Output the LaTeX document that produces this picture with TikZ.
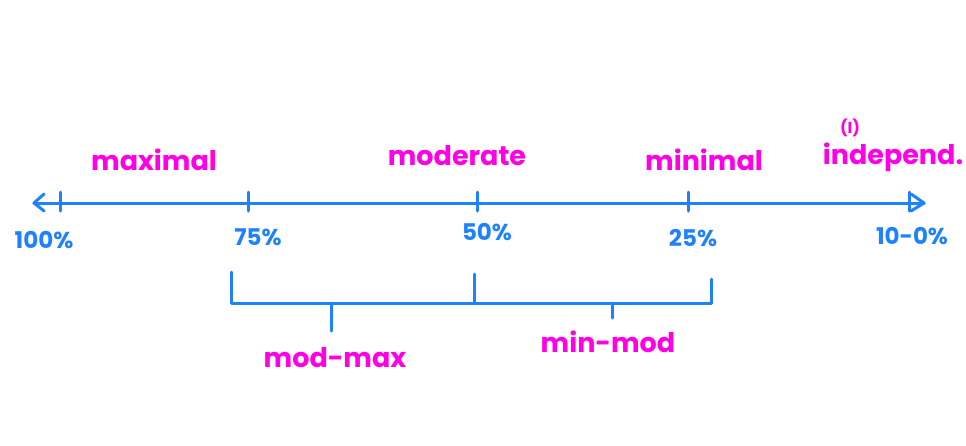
\documentclass[tikz,border=0pt]{standalone}
\usepackage{fontspec}
\setmainfont{Poppins}
\usetikzlibrary{arrows}
\definecolor{lineblue}{RGB}{30,130,255}
\definecolor{levelpink}{RGB}{255,0,230}

\begin{document}
\begin{tikzpicture}[x=1pt,y=-1pt,
  blueline/.style={draw=lineblue,line width=3pt,line cap=round,line join=round},
  pct/.style={text=lineblue,font=\fontsize{23}{23}\selectfont\bfseries},
  lvl/.style={text=levelpink,font=\fontsize{27}{27}\selectfont\bfseries}]
  \useasboundingbox (0,0) rectangle (966,445);
  % the scale
  \coordinate (left) at (34,203);
  \coordinate (right) at (924,203);
  \draw[blueline] (left) -- (right);
  \draw[blueline] (left) ++(10,-9) -- (left) -- ++(10,8);
  \draw[blueline] (right) ++(-13,-9) -- (right) -- ++(-13,8);
  \foreach \name/\x in {t100/60, t75/248, t50/477, t25/688, t0/909}
    \draw[blueline] (\x,192) -- (\x,211);
  \node[pct] (p100) at (44,240) {100\%};
  \node[pct] (p75) at (258,237) {75\%};
  \node[pct] (p50) at (487,232) {50\%};
  \node[pct] (p25) at (693,238) {25\%};
  \node[pct] (p0) at (912,236) {10-0\%};
  \node[lvl] (maximal) at (154,160) {maximal};
  \node[lvl] (moderate) at (457,156) {moderate};
  \node[lvl] (minimal) at (704,160) {minimal};
  \node[lvl,font=\fontsize{16}{16}\selectfont\bfseries] (indI) at (850,128) {(I)};
  \node[lvl] (independ) at (893,157) {independ.};
  % the bracket
  \coordinate (b1) at (231,272);
  \coordinate (b1a) at (231,303);
  \coordinate (b2) at (474,274);
  \coordinate (b2a) at (474,303);
  \coordinate (b3) at (711,279);
  \coordinate (b3a) at (711,303);
  \coordinate (m1) at (331,303);
  \coordinate (m1a) at (331,331);
  \coordinate (m2) at (612,303);
  \coordinate (m2a) at (612,318);
  \draw[blueline] (b1) -- (b1a) -- (b3a) -- (b3);
  \draw[blueline] (b2) -- (b2a);
  \draw[blueline] (m1) -- (m1a);
  \draw[blueline] (m2) -- (m2a);
  \node[lvl] (modmax) at (335,358) {mod-max};
  \node[lvl] (minmod) at (608,342) {min-mod};
\end{tikzpicture}
\end{document}
